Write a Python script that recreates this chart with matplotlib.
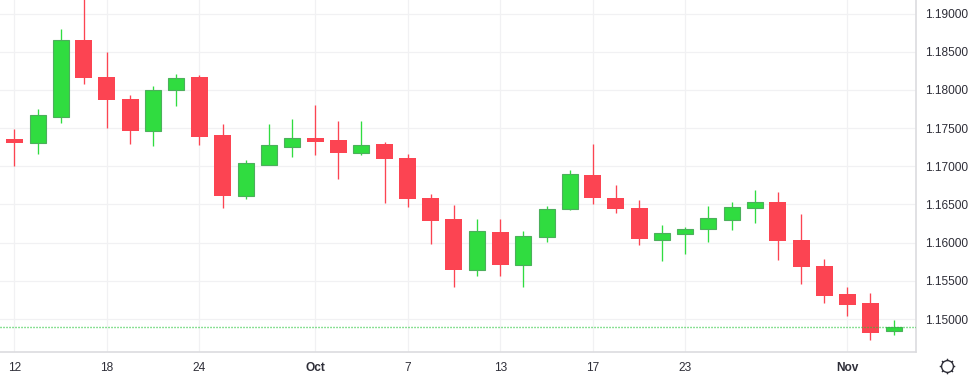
import matplotlib
matplotlib.use("Agg")
import matplotlib.pyplot as plt
from matplotlib.lines import Line2D

# candle values (1 = up/green, 0 = down/red)
up = [0, 1, 1, 0, 0, 0, 1, 1, 0, 0, 1, 1, 1, 0, 0, 1, 0, 0, 0, 0,
      1, 0, 1, 1, 1, 0, 0, 0, 1, 1, 1, 1, 1, 0, 0, 0, 0, 0, 1]
body_top = [1.17357, 1.17668, 1.18649, 1.18653, 1.18169, 1.17881, 1.17995, 1.18152,
            1.18169, 1.17410, 1.17039, 1.17275, 1.17366, 1.17370, 1.17344, 1.17275,
            1.17292, 1.17109, 1.16585, 1.16310, 1.16149, 1.16140, 1.16084, 1.16437,
            1.16895, 1.16886, 1.16585, 1.16454, 1.16123, 1.16175, 1.16319, 1.16463,
            1.16529, 1.16533, 1.16035, 1.15695, 1.15328, 1.15211, 1.14893]
body_bot = [1.17309, 1.17309, 1.17649, 1.18156, 1.17868, 1.17462, 1.17466, 1.18003,
            1.17384, 1.16611, 1.16615, 1.17021, 1.17257, 1.17318, 1.17174, 1.17178,
            1.17096, 1.16572, 1.16284, 1.15643, 1.15647, 1.15708, 1.15712, 1.16079,
            1.16445, 1.16585, 1.16441, 1.16048, 1.16039, 1.16118, 1.16183, 1.16301,
            1.16458, 1.16022, 1.15682, 1.15302, 1.15185, 1.14818, 1.14848]
highs = [1.17488, 1.17750, 1.18797, 1.19242, 1.18496, 1.17933, 1.18051, 1.18208,
         1.18195, 1.17554, 1.17082, 1.17554, 1.17619, 1.17802, 1.17593, 1.17593,
         1.17318, 1.17161, 1.16637, 1.16493, 1.16310, 1.16310, 1.16153, 1.16480,
         1.16952, 1.17292, 1.16755, 1.16559, 1.16232, 1.16205, 1.16480, 1.16533,
         1.16690, 1.16664, 1.16376, 1.15787, 1.15420, 1.15342, 1.14988]
lows = [1.17008, 1.17165, 1.17571, 1.18081, 1.17505, 1.17296, 1.17270, 1.17793,
        1.17283, 1.16458, 1.16576, 1.17021, 1.17126, 1.17148, 1.16834, 1.17148,
        1.16520, 1.16467, 1.15983, 1.15420, 1.15568, 1.15564, 1.15420, 1.16009,
        1.16432, 1.16507, 1.16389, 1.15970, 1.15760, 1.15852, 1.16009, 1.16166,
        1.16258, 1.15774, 1.15459, 1.15211, 1.15041, 1.14726, 1.14792]
last_price = 1.14893

date_pos = [0, 4, 8, 13, 17, 21, 25, 29, 36]
date_labels = ["12", "18", "24", "Oct", "7", "13", "17", "23", "Nov"]
month_labels = ["Oct", "Nov"]
price_ticks = [1.15, 1.155, 1.16, 1.165, 1.17, 1.175, 1.18, 1.185, 1.19]

RED = "#fc4452"
GREEN = "#30dc40"
GREEN_EDGE = "#4caf5c"
GRID = "#f1f1f3"
AXIS = "#dcdcdf"
TEXT = "#2e2e38"
W, H = 971, 379

plt.rcParams["font.family"] = ["Liberation Sans", "DejaVu Sans"]
fig = plt.figure(figsize=(W / 100, H / 100), dpi=100)
ax = fig.add_axes([0, 1 - 352 / H, 916 / W, 352 / H])

xs = list(range(len(up)))
ax.set_xlim(-0.622, 38.97)
ax.set_ylim(1.14569, 1.19177)
ax.set_axisbelow(True)
ax.grid(color=GRID, lw=0.9)

for i in xs:
    col = GREEN if up[i] else RED
    ax.vlines(i, lows[i], highs[i], color=col, lw=0.95, zorder=3)
    if up[i]:
        ax.bar(i, body_top[i] - body_bot[i], bottom=body_bot[i], width=0.69, color=col,
               edgecolor=GREEN_EDGE, lw=0.8, zorder=4)
    else:
        ax.bar(i, body_top[i] - body_bot[i], bottom=body_bot[i], width=0.735, color=col,
               lw=0, zorder=4)

ax.axhline(last_price, color="#22c536", lw=1, ls=(0, (0.75, 1.41)), zorder=5)

ax.set_xticks(date_pos)
ax.set_xticklabels(date_labels)
for lab in ax.get_xticklabels():
    if lab.get_text() in month_labels:
        lab.set_fontweight("bold")
ax.yaxis.tick_right()
ax.set_yticks(price_ticks)
ax.set_yticklabels([f"{p:.5f}" for p in price_ticks])
ax.tick_params(axis="x", length=0, pad=7, labelsize=8.6, labelcolor=TEXT)
ax.tick_params(axis="y", length=0, pad=6.4, labelsize=8.6, labelcolor=TEXT)

for side in ("top", "left"):
    ax.spines[side].set_visible(False)
for side in ("bottom", "right"):
    ax.spines[side].set_color(AXIS)
    ax.spines[side].set_linewidth(1.2)

# settings icon in the corner
ix, iy = 947 / W, 1 - 366 / H
fig.add_artist(Line2D([ix], [iy], marker=(8, 2, 0), ms=11, mew=0.9, color=TEXT,
                      transform=fig.transFigure))
fig.add_artist(Line2D([ix], [iy], marker="o", ms=8.5, mew=1.0, mfc="white", mec=TEXT,
                      transform=fig.transFigure))

fig.savefig("out.png", dpi=100)
